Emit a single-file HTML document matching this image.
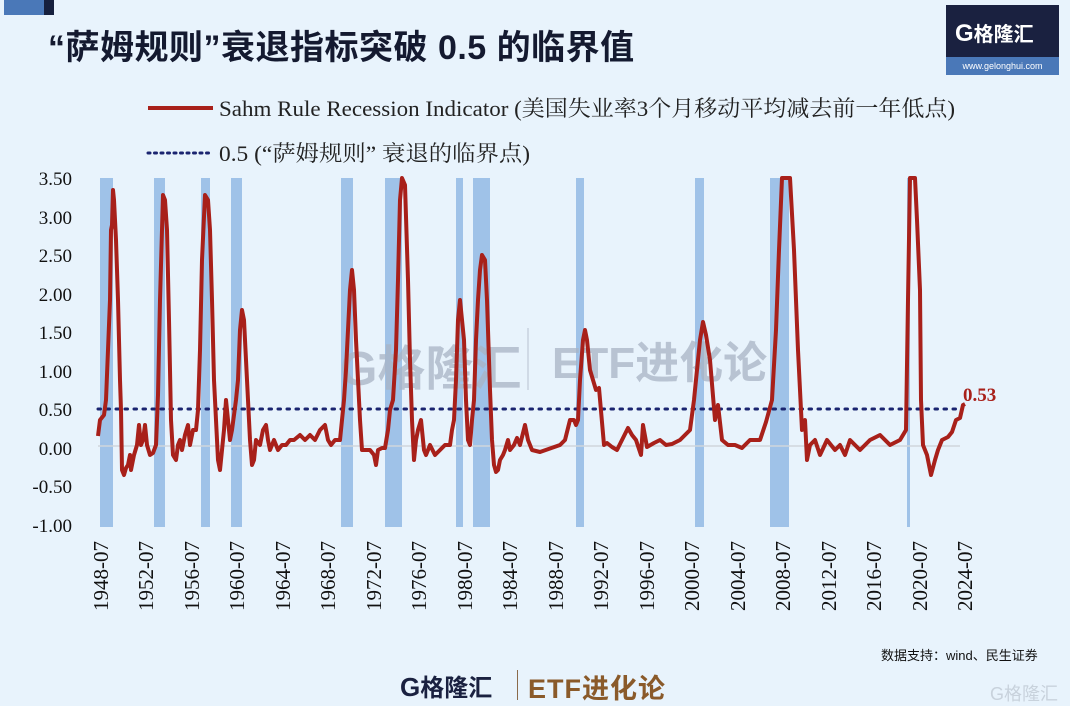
<!DOCTYPE html>
<html><head><meta charset="utf-8"><style>
body{margin:0;background:#e8f3fc;}
#w{position:relative;width:1070px;height:706px;overflow:hidden;background:#e8f3fc;font-family:"Liberation Sans","Noto Sans CJK SC",sans-serif;}
.t{position:absolute;white-space:nowrap;}
</style></head><body><div id="w">
<div class="t" style="left:4px;top:0;width:40px;height:15px;background:#4a78b8"></div>
<div class="t" style="left:44px;top:0;width:10px;height:15px;background:#16203e"></div>
<div class="t" style="left:48px;top:20px;font-size:34px;font-weight:bold;color:#141a30;letter-spacing:0.5px">“萨姆规则”衰退指标突破 0.5 的临界值</div>
<div class="t" style="left:946px;top:5px;width:113px;height:57px;background:#1a2140"></div>
<div class="t" style="left:946px;top:57px;width:113px;height:18px;background:#4a78b8;color:#fff;font-size:9px;text-align:center;line-height:18px">www.gelonghui.com</div>
<div class="t" style="left:955px;top:18px;font-size:24px;font-weight:bold;color:#fff">G<span style="font-size:20px">格隆汇</span></div>
<svg class="t" style="left:0;top:0" width="1070" height="706">
<g fill="#9fc2e8">
<rect x="100" y="178" width="13" height="349"/><rect x="154" y="178" width="11" height="349"/><rect x="201" y="178" width="9" height="349"/><rect x="231" y="178" width="11" height="349"/><rect x="341" y="178" width="12" height="349"/><rect x="385" y="178" width="17" height="349"/><rect x="456" y="178" width="7" height="349"/><rect x="473" y="178" width="17" height="349"/><rect x="576" y="178" width="8" height="349"/><rect x="695" y="178" width="9" height="349"/><rect x="770" y="178" width="19" height="349"/><rect x="907" y="178" width="3" height="349"/>
</g>
<line x1="98" y1="446" x2="960" y2="446" stroke="#cfd6dc" stroke-width="1.5"/>
<text x="340" y="385" font-size="48" font-weight="bold" fill="#a9b4c4" opacity="0.75" font-family="Liberation Sans,Noto Sans CJK SC,sans-serif">G格隆汇</text>
<line x1="528" y1="328" x2="528" y2="390" stroke="#b8c2d0"/>
<text x="552" y="378" font-size="44" font-weight="bold" fill="#a9b4c4" opacity="0.75" font-family="Liberation Sans,Noto Sans CJK SC,sans-serif">ETF进化论</text>
<line x1="98" y1="409" x2="960" y2="409" stroke="#1a2470" stroke-width="3" stroke-dasharray="2.5 6.5" stroke-linecap="round"/>
<line x1="148" y1="108" x2="213" y2="108" stroke="#a8201a" stroke-width="4"/>
<line x1="148" y1="153" x2="213" y2="153" stroke="#1a2470" stroke-width="3" stroke-dasharray="2 4.5" stroke-linecap="round"/>
<polyline fill="none" stroke="#a8201a" stroke-width="4" stroke-linejoin="round" points="98,436 100,420 104,415 106,400 110,300 111,230 112,225 113,190 114,200 116,240 118,300 120,380 121,410 122,470 124,475 126,468 128,465 130,455 131,470 134,455 137,445 139,425 141,445 143,440 145,425 147,445 150,455 153,453 156,445 158,395 160,300 163,195 165,200 167,230 169,320 171,420 173,455 176,460 178,445 180,440 182,450 185,435 188,425 190,445 193,430 196,430 198,410 200,350 202,260 205,195 208,200 210,230 212,300 214,380 216,420 218,460 220,470 222,450 224,430 226,400 228,420 230,440 232,430 236,400 238,380 240,330 242,310 244,320 246,360 248,400 250,440 252,465 254,460 256,440 260,445 263,430 266,425 268,440 270,450 274,440 278,450 282,445 286,445 290,440 294,440 300,435 305,440 310,435 315,440 320,430 325,425 328,440 331,445 335,440 340,440 342,420 344,400 346,370 348,330 350,290 352,270 354,290 356,340 358,380 360,420 362,450 366,450 370,450 374,455 376,465 378,450 382,448 385,448 388,430 390,410 393,400 396,350 398,280 400,200 402,178 405,185 408,280 410,360 412,420 414,460 416,440 418,430 421,420 424,450 426,455 430,445 435,455 440,450 445,445 450,445 452,430 454,420 456,380 458,320 460,300 462,320 464,340 466,400 468,440 470,445 472,420 474,400 476,340 478,300 480,270 482,255 485,260 487,300 490,390 492,440 494,465 496,472 498,470 500,460 503,455 505,450 508,440 510,450 514,445 517,438 520,445 525,425 528,440 532,450 540,452 560,445 565,440 570,420 574,420 576,425 578,420 580,380 583,340 585,330 587,340 590,370 596,390 599,388 604,445 607,443 612,447 617,450 622,440 628,428 632,435 636,440 641,455 643,425 647,447 654,443 660,440 666,445 672,444 680,440 690,430 694,400 697,370 700,340 703,322 706,335 710,360 715,420 718,405 722,440 728,445 735,445 742,448 750,440 760,440 766,422 772,400 776,330 779,250 782,178 790,178 794,250 798,350 802,430 805,420 807,460 810,445 815,440 820,455 827,440 835,450 840,445 845,455 850,440 860,450 870,440 880,435 890,445 900,440 906,430 908,300 910,178 915,178 917,220 920,290 921,400 923,445 927,455 931,475 935,460 938,450 942,440 948,437 952,432 956,420 960,418 963,405 965,404"/>
<g font-family="Liberation Serif,serif" font-size="19" fill="#111" text-anchor="end">
<text x="72" y="185">3.50</text><text x="72" y="224">3.00</text><text x="72" y="262">2.50</text><text x="72" y="301">2.00</text><text x="72" y="339">1.50</text><text x="72" y="378">1.00</text><text x="72" y="416">0.50</text><text x="72" y="455">0.00</text><text x="72" y="493">-0.50</text><text x="72" y="532">-1.00</text>
</g>
<g font-family="Liberation Serif,serif" font-size="21" fill="#111" text-anchor="end">
<text transform="translate(108,541) rotate(-90)">1948-07</text><text transform="translate(153,541) rotate(-90)">1952-07</text><text transform="translate(199,541) rotate(-90)">1956-07</text><text transform="translate(244,541) rotate(-90)">1960-07</text><text transform="translate(290,541) rotate(-90)">1964-07</text><text transform="translate(335,541) rotate(-90)">1968-07</text><text transform="translate(381,541) rotate(-90)">1972-07</text><text transform="translate(426,541) rotate(-90)">1976-07</text><text transform="translate(472,541) rotate(-90)">1980-07</text><text transform="translate(517,541) rotate(-90)">1984-07</text><text transform="translate(563,541) rotate(-90)">1988-07</text><text transform="translate(608,541) rotate(-90)">1992-07</text><text transform="translate(654,541) rotate(-90)">1996-07</text><text transform="translate(699,541) rotate(-90)">2000-07</text><text transform="translate(745,541) rotate(-90)">2004-07</text><text transform="translate(790,541) rotate(-90)">2008-07</text><text transform="translate(836,541) rotate(-90)">2012-07</text><text transform="translate(881,541) rotate(-90)">2016-07</text><text transform="translate(927,541) rotate(-90)">2020-07</text><text transform="translate(972,541) rotate(-90)">2024-07</text>
</g>
<text x="963" y="401" font-family="Liberation Serif,serif" font-size="19" font-weight="bold" fill="#a8201a">0.53</text>
<g font-family="Liberation Serif,Noto Serif CJK SC,serif" font-size="22" fill="#222">
<text x="219" y="116" textLength="736" lengthAdjust="spacingAndGlyphs">Sahm Rule Recession Indicator (美国失业率3个月移动平均减去前一年低点)</text>
<text x="219" y="161" textLength="311" lengthAdjust="spacingAndGlyphs">0.5 (“萨姆规则” 衰退的临界点)</text>
</g>
</svg>
<div class="t" style="left:881px;top:645px;font-size:13px;color:#111">数据支持：wind、民生证券</div>
<div class="t" style="left:400px;top:668px;font-size:26px;font-weight:bold;color:#1a2140">G<span style="font-size:24px">格隆汇</span></div>
<div class="t" style="left:517px;top:670px;width:1px;height:30px;background:#8a6a4a"></div>
<div class="t" style="left:528px;top:667px;font-size:27px;font-weight:bold;color:#8a5a2a;letter-spacing:1px">ETF进化论</div>
<div class="t" style="left:990px;top:680px;font-size:18px;color:#c8d2dc">G格隆汇</div>
</div></body></html>
